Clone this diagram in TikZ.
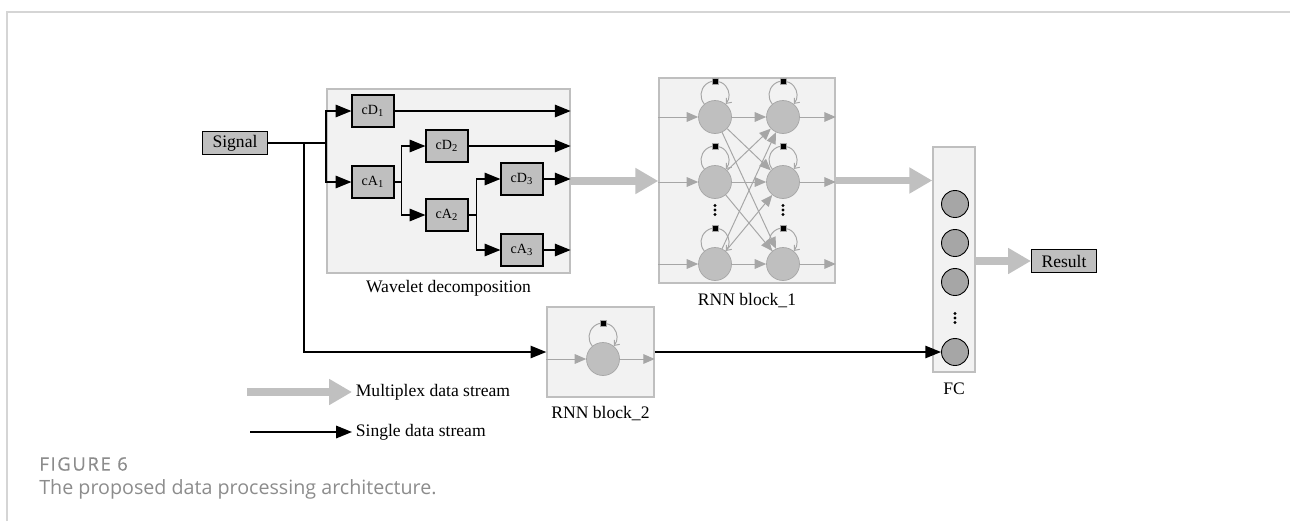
\documentclass[tikz,border=0pt]{standalone}
\usepackage{fontspec}
\setmainfont{Liberation Serif}
\newfontfamily\capfont{Open Sans}
\newfontfamily\capfontb{Open Sans}[FakeBold=0.6, LetterSpace=9]
\usetikzlibrary{
  arrows.meta,   % Triangle 箭头
  calc,          % 坐标计算
  positioning    % 节点相对定位
}

\definecolor{panelfill}{HTML}{F2F2F2}
\definecolor{panelline}{HTML}{BFBFBF}
\definecolor{boxfill}{HTML}{BFBFBF}
\definecolor{cellfill}{HTML}{BFBFBF}
\definecolor{cellline}{HTML}{A6A6A6}
\definecolor{fcfill}{HTML}{A6A6A6}
\definecolor{flowgray}{HTML}{C0C0C0}
\definecolor{framegray}{HTML}{D5D5D5}
\definecolor{capgray}{HTML}{8C8C8C}

\tikzset{
  panel/.style={draw=panelline, fill=panelfill, line width=0.8pt, inner sep=0pt},
  coef/.style={draw=black, fill=boxfill, line width=0.6pt, minimum width=0.84cm,
    minimum height=0.64cm, inner sep=0pt, font=\fontsize{8}{9}\selectfont},
  tag/.style={draw=black, fill=boxfill, line width=0.6pt, minimum width=1.3cm,
    minimum height=0.47cm, inner sep=0pt, font=\fontsize{10}{12}\selectfont},
  cell/.style={circle, draw=cellline, fill=cellfill, minimum size=0.66cm, inner sep=0pt},
  fcell/.style={circle, draw=black, fill=fcfill, line width=0.5pt, minimum size=0.54cm, inner sep=0pt},
  lbl/.style={font=\fontsize{10}{12}\selectfont},
  wire/.style={line width=1.1pt},
  single/.style={line width=1.1pt, -{Triangle[length=9pt, width=7pt]}},
  multi/.style={draw=flowgray, line width=4.5pt, -{Triangle[length=13pt, width=14pt]}},
  gwire/.style={draw=cellline, line width=0.55pt, -{Triangle[length=6.5pt, width=5.5pt]}},
  loopline/.style={draw=cellline, line width=0.55pt, -{Straight Barb[length=2.5pt, width=4pt]}}
}

\begin{document}
\begin{tikzpicture}[>=Stealth, x=0.02cm, y=-0.02cm]
  % 自循环的半径与上移量
  \def\loopr{14}
  \def\loopup{22}

  \useasboundingbox (0,0) rectangle (1290,521);

  % 外框（上边与左边）
  \draw[framegray, line width=0.8pt] (7,521) -- (7,12) -- (1290,12);

  % 1. 各模块底板
  \node[tag] (sig) at (235,143) {Signal};
  \node[panel, minimum width=4.86cm, minimum height=3.68cm] (wave) at (448.5,181) {};
  \node[panel, minimum width=3.52cm, minimum height=4.1cm] (rnn1) at (747,180.5) {};
  \node[panel, minimum width=2.14cm, minimum height=1.8cm] (rnn2) at (600.5,352) {};
  \node[panel, minimum width=0.84cm, minimum height=4.5cm] (fc) at (954,259.5) {};
  \node[tag] (res) at (1064,261) {Result};

  \node[lbl, below=0pt of wave] (wavelbl) {Wavelet decomposition};
  \node[lbl, below=0.06cm of rnn1] (rnn1lbl) {RNN block\_1};
  \node[lbl, below=0.04cm of rnn2] (rnn2lbl) {RNN block\_2};
  \node[lbl, below=0.08cm of fc] (fclbl) {FC};

  % 2. 小波分解
  \node[coef] (cD1) at (373,111) {cD\textsubscript{1}};
  \node[coef] (cA1) at (373,182) {cA\textsubscript{1}};
  \node[coef] (cD2) at (447,146) {cD\textsubscript{2}};
  \node[coef] (cA2) at (447,215) {cA\textsubscript{2}};
  \node[coef] (cD3) at (522,179) {cD\textsubscript{3}};
  \node[coef] (cA3) at (522,250) {cA\textsubscript{3}};

  \coordinate (b0) at (wave.west |- sig);
  \draw[wire] (sig.east) -- (b0);
  \draw[single] (b0) |- (cD1);
  \draw[single] (b0) |- (cA1);
  \coordinate (b1) at ($(cA1.east)+(7,0)$);
  \draw[wire] (cA1) -- (b1);
  \draw[single] (b1) |- (cD2);
  \draw[single] (b1) |- (cA2);
  \coordinate (b2) at ($(cA2.east)+(8,0)$);
  \draw[wire] (cA2) -- (b2);
  \draw[single] (b2) |- (cD3);
  \draw[single] (b2) |- (cA3);
  \foreach \n in {cD1,cD2,cD3,cA3}
    \draw[single] (\n) -- (wave.east |- \n);

  % 3. RNN block_1
  \foreach \c/\x in {1/715,2/783}
    \foreach \r/\y in {1/117,2/182,3/264}
      \node[cell] (n\c\r) at (\x,\y) {};
  \foreach \r in {1,2,3} {
    \draw[gwire] (rnn1.west |- n1\r) -- (n1\r);
    \draw[gwire] (n2\r) -- (rnn1.east |- n2\r);
    \foreach \s in {1,2,3}
      \draw[gwire] (n1\r) -- (n2\s);
  }
  \foreach \x in {715,783}
    \foreach \d in {-4.5,0,4.5}
      \fill (\x,210+\d) circle (1.7);

  % 4. RNN block_2
  \node[cell] (m1) at (603,359) {};
  \draw[gwire] (rnn2.west |- m1) -- (m1);
  \draw[gwire] (m1) -- (rnn2.east |- m1);

  % 自循环与门控方块
  \foreach \n in {n11,n12,n13,n21,n22,n23,m1} {
    \coordinate (lc) at ($(\n)+(0,-\loopup)$);
    \draw[loopline] ($(lc)+(140:\loopr)$) arc[start angle=140, end angle=400, radius=\loopr];
    \filldraw[black, draw=cellline, line width=0.3pt] ($(lc)+(-3.2,-\loopr-3.2)$) rectangle ($(lc)+(3.2,-\loopr+3.2)$);
  }

  % 5. 全连接层
  \foreach \i/\y in {1/204,2/243,3/282,4/352}
    \node[fcell] (f\i) at (955,\y) {};
  \foreach \d in {-4.5,0,4.5}
    \fill (955,318+\d) circle (1.7);

  % 6. 数据流
  \draw[multi] (wave.east) -- (wave.east -| rnn1.west);
  \draw[multi] (rnn1.east) -- (rnn1.east -| fc.west);
  \draw[multi] (fc.east |- res) -- (res.west);

  \coordinate (tap) at ($(sig.east)!0.61!(b0)$);
  \draw[single] (tap) |- (rnn2.west);
  \draw[single] (rnn2.east) -- (f4);

  % 7. 图例
  \node[lbl, anchor=west, inner sep=2pt] (leg1) at (352,392) {Multiplex data stream};
  \node[lbl, anchor=west, inner sep=2pt] (leg2) at (352,432) {Single data stream};
  \coordinate (leg1s) at (247,392);
  \coordinate (leg2s) at (250,432);
  \draw[multi] (leg1s) -- (leg1.west);
  \draw[single] (leg2s) -- (leg2.west);

  % 8. 图题
  \node[anchor=west, inner sep=0pt, text=capgray, font=\capfontb\fontsize{10.5}{12}\selectfont] (fignum) at (39,464) {FIGURE 6};
  \node[anchor=west, inner sep=0pt, text=capgray, font=\capfont\fontsize{11.2}{13}\selectfont] (figcap) at (39,489) {The proposed data processing architecture.};
\end{tikzpicture}
\end{document}
